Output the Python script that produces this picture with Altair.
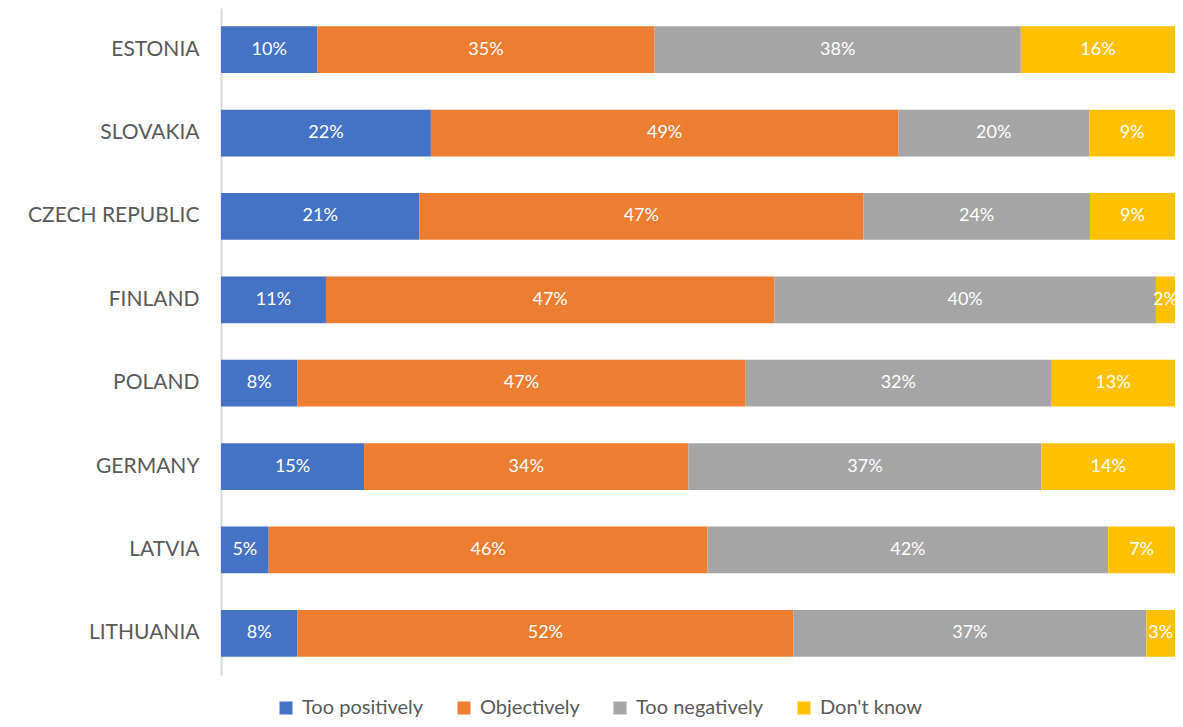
import altair as alt
import pandas as pd

countries = ["ESTONIA", "SLOVAKIA", "CZECH REPUBLIC", "FINLAND", "POLAND", "GERMANY", "LATVIA", "LITHUANIA"]
series = ["Too positively", "Objectively", "Too negatively", "Don't know"]
too_positively = [10, 22, 21, 11, 8, 15, 5, 8]
objectively = [35, 49, 47, 47, 47, 34, 46, 52]
too_negatively = [38, 20, 24, 40, 32, 37, 42, 37]
dont_know = [16, 9, 9, 2, 13, 14, 7, 3]
colors = ["#4472C4", "#ED7D31", "#A5A5A5", "#FFC000"]

rows = []
for s_i, (s, vals) in enumerate(zip(series, [too_positively, objectively, too_negatively, dont_know])):
    for c, v in zip(countries, vals):
        rows.append({"country": c, "series": s, "value": v, "order": s_i})
df = pd.DataFrame(rows)

base = alt.Chart(df).transform_stack(
    stack="value",
    as_=["x0", "x1"],
    groupby=["country"],
    offset="normalize",
    sort=[alt.SortField("order", order="ascending")],
).transform_calculate(
    mid="(datum.x0 + datum.x1) / 2",
    label="datum.value + '%'",
)

yenc = alt.Y(
    "country:N",
    sort=countries,
    scale=alt.Scale(paddingInner=0.44, paddingOuter=0.22),
    axis=alt.Axis(
        title=None,
        ticks=False,
        grid=False,
        domain=True,
        domainColor="#d9d9d9",
        domainWidth=2,
        labelFont="Lato",
        labelFontSize=21,
        labelColor="#595959",
        labelPadding=22,
        labelLimit=300,
    ),
)
xscale = alt.Scale(domain=[0, 1], nice=False, zero=True)

bars = base.mark_bar().encode(
    y=yenc,
    x=alt.X("x0:Q", scale=xscale, axis=None),
    x2="x1:Q",
    color=alt.Color(
        "series:N",
        sort=series,
        scale=alt.Scale(domain=series, range=colors),
        legend=alt.Legend(
            title=None,
            orient="none",
            legendX=55,
            legendY=690,
            direction="horizontal",
            symbolType="square",
            symbolSize=169,
            symbolStrokeWidth=0,
            labelFont="Lato",
            labelFontSize=20,
            labelColor="#595959",
            labelOffset=6,
            columnPadding=30,
        ),
    ),
    order=alt.Order("order:Q"),
)

text = base.mark_text(color="white", font="Lato", fontSize=18, baseline="middle", align="center").encode(
    y=alt.Y("country:N", sort=countries),
    x=alt.X("mid:Q", scale=xscale, axis=None),
    text="label:N",
)

chart = alt.layer(bars, text).properties(
    width=954,
    height=667,
    autosize=alt.AutoSizeParams(type="none"),
    padding={"left": 213, "top": 0, "right": 0, "bottom": 44},
).configure_view(stroke=None)

chart.save("out.html", embed_options={"renderer": "svg", "actions": False})
